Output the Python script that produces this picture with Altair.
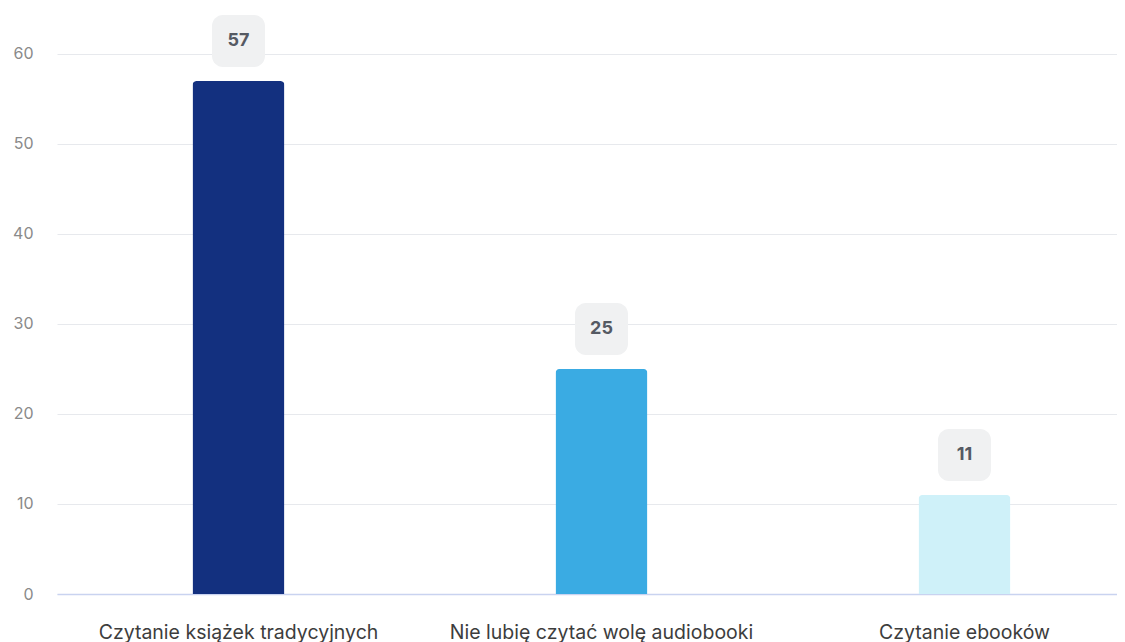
import altair as alt
import pandas as pd

categories = ["Czytanie książek tradycyjnych", "Nie lubię czytać wolę audiobooki", "Czytanie ebooków"]
values = [57, 25, 11]
colors = ["#13307f", "#3aabe3", "#cff1f9"]

df = pd.DataFrame({"cat": categories, "v": values, "c": colors})

x = alt.X("cat:N", sort=categories, title=None,
          scale=alt.Scale(range=[0, 1089], paddingInner=0, paddingOuter=0),
          axis=alt.Axis(labelAngle=0, labelFontSize=19.5, labelColor="#3d3d3d", labelFont="Inter",
                        labelPadding=29, ticks=False, domain=True, domainColor="#c9d3f0", domainWidth=1.5,
                        grid=False, labelLimit=500))
y = alt.Y("v:Q", title=None,
          scale=alt.Scale(domain=[0, 65.11], nice=False, zero=True),
          axis=alt.Axis(values=[0, 10, 20, 30, 40, 50, 60], labelFontSize=16, labelColor="#8a8a8a",
                        labelFont="Inter", labelPadding=24, ticks=False, domain=False,
                        gridColor="#e7e9ed", gridWidth=1))

base = alt.Chart(df)

bars = base.mark_bar(size=92, cornerRadiusTopLeft=4, cornerRadiusTopRight=4).encode(
    x=x, y=y, color=alt.Color("c:N", scale=None))

boxes = base.mark_bar(size=53, cornerRadius=11, yOffset=-14, y2Offset=-66, color="#f0f1f2").encode(
    x=alt.X("cat:N", sort=categories), y=alt.Y("v:Q"), y2="v:Q")

labels = base.mark_text(dy=-40, fontSize=18, fontWeight="bold", color="#555a63", font="Inter",
                        baseline="middle").encode(
    x=alt.X("cat:N", sort=categories), y=alt.Y("v:Q"), text="v:Q")

chart = alt.layer(bars, boxes, labels).properties(
    width=1060, height=586,
    autosize=alt.AutoSizeParams(type="none"),
    padding={"left": 49, "top": 0, "right": 0, "bottom": 48},
).configure(font="Inter").configure_view(strokeWidth=0, stroke=None)

chart.save("out.html", embed_options={"renderer": "svg", "actions": False})
